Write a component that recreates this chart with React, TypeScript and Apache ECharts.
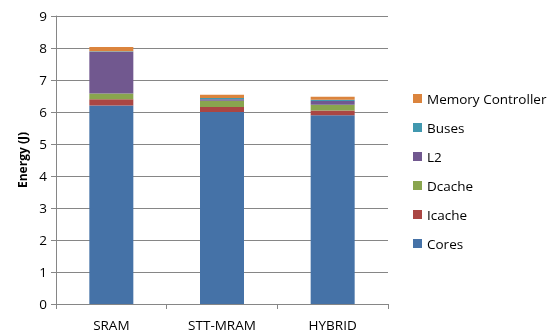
import React, { useEffect, useRef } from "react";
import * as echarts from "echarts";

const categories = ["SRAM", "STT-MRAM", "HYBRID"];
const seriesNames = ["Cores", "Icache", "Dcache", "L2", "Buses", "Memory Controller"];
const cores = [6.2, 6.0, 5.9];
const icache = [0.2, 0.16, 0.15];
const dcache = [0.18, 0.19, 0.18];
const l2 = [1.3, 0.05, 0.11];
const buses = [0.02, 0.04, 0.04];
const memCtrl = [0.13, 0.1, 0.1];
const yTicks = [0, 1, 2, 3, 4, 5, 6, 7, 8, 9];
const colors = ["#4572A7", "#AA4643", "#89A54E", "#71588F", "#4198AF", "#DB843D"];

export default function App() {
  const ref = useRef<HTMLDivElement>(null);
  useEffect(() => {
    if (!ref.current) return;
    const chart = echarts.init(ref.current, undefined, { renderer: "svg" });
    const values = [cores, icache, dcache, l2, buses, memCtrl];
    const font = "'Open Sans', 'Noto Sans', sans-serif";
    chart.setOption({
      animation: false,
      textStyle: { fontFamily: font },
      grid: { left: 56, right: 171, top: 16, bottom: 31 },
      legend: {
        orient: "vertical",
        left: 408,
        top: 86,
        itemWidth: 9,
        itemHeight: 9,
        itemGap: 14,
        icon: "rect",
        data: [...seriesNames].reverse(),
        textStyle: { fontFamily: font, fontSize: 13.5, color: "#000", lineHeight: 15 },
      },
      xAxis: {
        type: "category",
        data: categories,
        axisLine: { lineStyle: { color: "#868686", width: 1 } },
        axisTick: { show: true, length: 5, lineStyle: { color: "#868686" } },
        axisLabel: { color: "#000", fontSize: 13.5, margin: 14, fontFamily: font },
      },
      yAxis: {
        type: "value",
        min: yTicks[0],
        max: yTicks[yTicks.length - 1],
        interval: 1,
        name: "Energy (J)",
        nameLocation: "middle",
        nameGap: 26,
        nameTextStyle: { fontWeight: "bold", fontSize: 12, color: "#000", fontFamily: font },
        axisLine: { show: true, lineStyle: { color: "#868686" } },
        axisTick: { show: true, length: 5, lineStyle: { color: "#868686" } },
        axisLabel: { color: "#000", fontSize: 13.5, margin: 9, fontFamily: font },
        splitLine: { lineStyle: { color: "#868686", width: 1 } },
      },
      series: seriesNames.map((name, i) => ({
        name,
        type: "bar",
        stack: "total",
        barWidth: 44,
        data: values[i],
        itemStyle: { color: colors[i] },
      })),
    });
    return () => chart.dispose();
  }, []);
  return <div ref={ref} style={{ width: 559, height: 335, position: "fixed", left: 0, top: 0 }} />;
}
